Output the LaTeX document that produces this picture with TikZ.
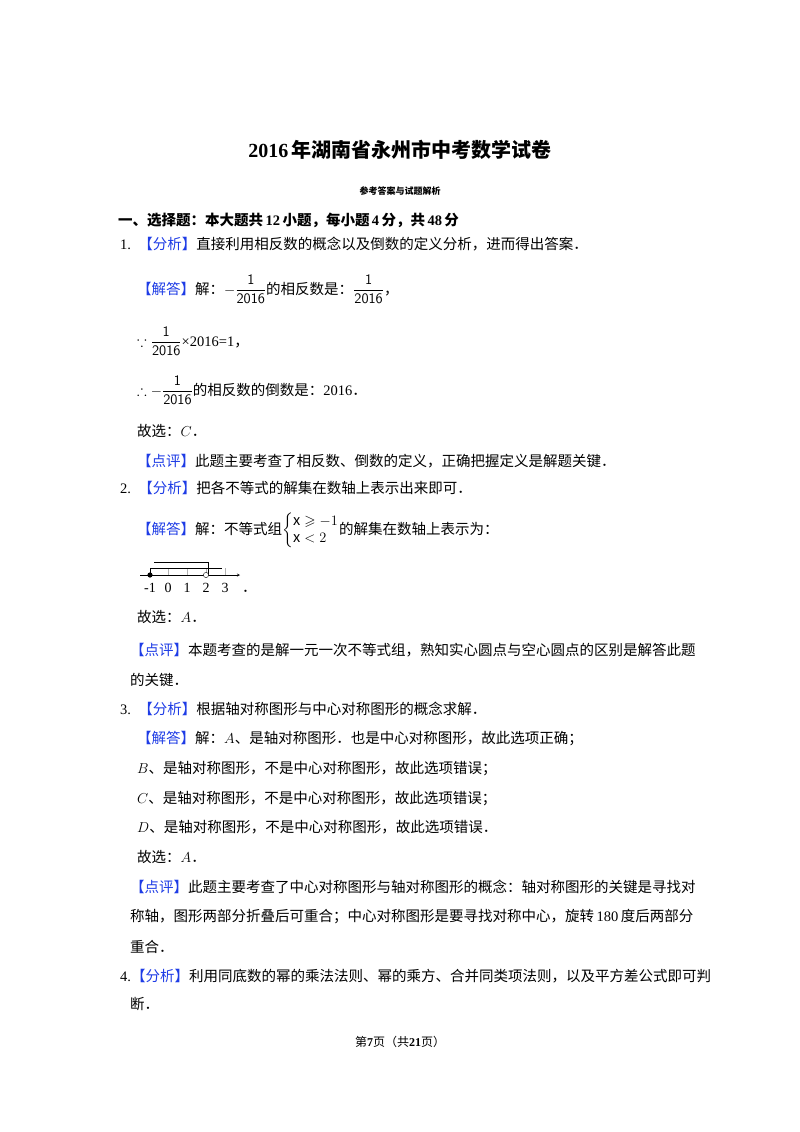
\documentclass[tikz,border=0pt]{standalone}
\usepackage{amsmath,amssymb}
\usepackage{fontspec}
\setmainfont{Noto Sans CJK SC}
\newfontfamily\serif{Liberation Serif}
\definecolor{kb}{RGB}{30,60,230}
\begin{document}
\begin{tikzpicture}[x=1pt,y=-1pt,
  t/.style={anchor=base west,inner sep=0pt,font=\fontsize{14.5}{17}\selectfont},
  tag/.style={text=kb}]
\useasboundingbox[fill=white] (0,0) rectangle (800,1132);
\node[anchor=base,inner sep=0pt,font=\fontsize{20}{24}\selectfont\bfseries] (title) at (400,157) {{\serif\bfseries 2016}\,年湖南省永州市中考数学试卷};
\node[anchor=base,inner sep=0pt,font=\fontsize{9}{11}\selectfont\bfseries] (sub) at (400,194) {参考答案与试题解析};
\node[t,font=\fontsize{14.5}{17}\selectfont\bfseries] (sec) at (118,225) {一、选择题：本大题共\,{\serif 12}\,小题，每小题\,{\serif 4}\,分，共\,{\serif 48}\,分};
\node[t] (l1) at (120,249) {{\serif 1.}\enspace{\color{kb}【分析】}直接利用相反数的概念以及倒数的定义分析，进而得出答案．};
\node[t] (l2) at (137,294) {{\color{kb}【解答】}解：$-\dfrac{\mathsf{1}}{\mathsf{2016}}$的相反数是：$\dfrac{\mathsf{1}}{\mathsf{2016}}$，};
\node[t] (l3) at (137,346) {$\because\dfrac{\mathsf{1}}{\mathsf{2016}}${\serif ×2016=1}，};
\node[t] (l4) at (137,395) {$\therefore-\dfrac{\mathsf{1}}{\mathsf{2016}}$的相反数的倒数是：{\serif 2016}．};
\node[t] (l5) at (137,436) {故选：$C$．};
\node[t] (l6) at (137,466) {{\color{kb}【点评】}此题主要考查了相反数、倒数的定义，正确把握定义是解题关键．};
\node[t] (l7) at (120,493) {{\serif 2.}\enspace{\color{kb}【分析】}把各不等式的解集在数轴上表示出来即可．};
\node[t] (l8) at (137,534) {{\color{kb}【解答】}解：不等式组$\left\{\begin{array}{@{}l@{}}\mathrm{x}\geqslant-1\\ \mathrm{x}<2\end{array}\right.$的解集在数轴上表示为：};
% number line
\coordinate (a0) at (140,575);
\coordinate (a1) at (240,575);
\draw[->,>=stealth] (a0) -- (a1);
\foreach \v/\x in {-1/150,0/168,1/187,2/206,3/225}{
  \draw[gray!60] (\x,568) -- (\x,575);
  \node[anchor=base,inner sep=0pt,font=\fontsize{14}{16}\selectfont] (n\x) at (\x,592) {\serif \v};
}
\draw (150,575) -- (150,568) -- (222,568);
\draw (208,575) -- (208,562) -- (154,562);
\fill (150,575) circle (2.6pt);
\draw[fill=white] (206,575) circle (2.6pt);
\node[t] (dot) at (242,592) {．};
\node[t] (l9) at (137,622) {故选：$A$．};
\node[t] (l10) at (130,655) {{\color{kb}【点评】}本题考查的是解一元一次不等式组，熟知实心圆点与空心圆点的区别是解答此题};
\node[t] (l11) at (130,685) {的关键．};
\node[t] (l12) at (120,714) {{\serif 3.}\enspace{\color{kb}【分析】}根据轴对称图形与中心对称图形的概念求解．};
\node[t] (l13) at (137,743) {{\color{kb}【解答】}解：$A$、是轴对称图形．也是中心对称图形，故此选项正确；};
\node[t] (l14) at (137,773) {$B$、是轴对称图形，不是中心对称图形，故此选项错误；};
\node[t] (l15) at (137,803) {$C$、是轴对称图形，不是中心对称图形，故此选项错误；};
\node[t] (l16) at (137,832) {$D$、是轴对称图形，不是中心对称图形，故此选项错误．};
\node[t] (l17) at (137,862) {故选：$A$．};
\node[t] (l18) at (130,892) {{\color{kb}【点评】}此题主要考查了中心对称图形与轴对称图形的概念：轴对称图形的关键是寻找对};
\node[t] (l19) at (130,921) {称轴，图形两部分折叠后可重合；中心对称图形是要寻找对称中心，旋转\,{\serif 180}\,度后两部分};
\node[t] (l20) at (130,952) {重合．};
\node[t] (l21) at (120,981) {{\serif 4.}{\color{kb}【分析】}利用同底数的幂的乘法法则、幂的乘方、合并同类项法则，以及平方差公式即可判};
\node[t] (l22) at (130,1009) {断．};
\node[anchor=base,inner sep=0pt,font=\fontsize{12}{14}\selectfont] (foot) at (400,1046) {第{\serif\bfseries 7}页（共{\serif\bfseries 21}页）};
\end{tikzpicture}
\end{document}
